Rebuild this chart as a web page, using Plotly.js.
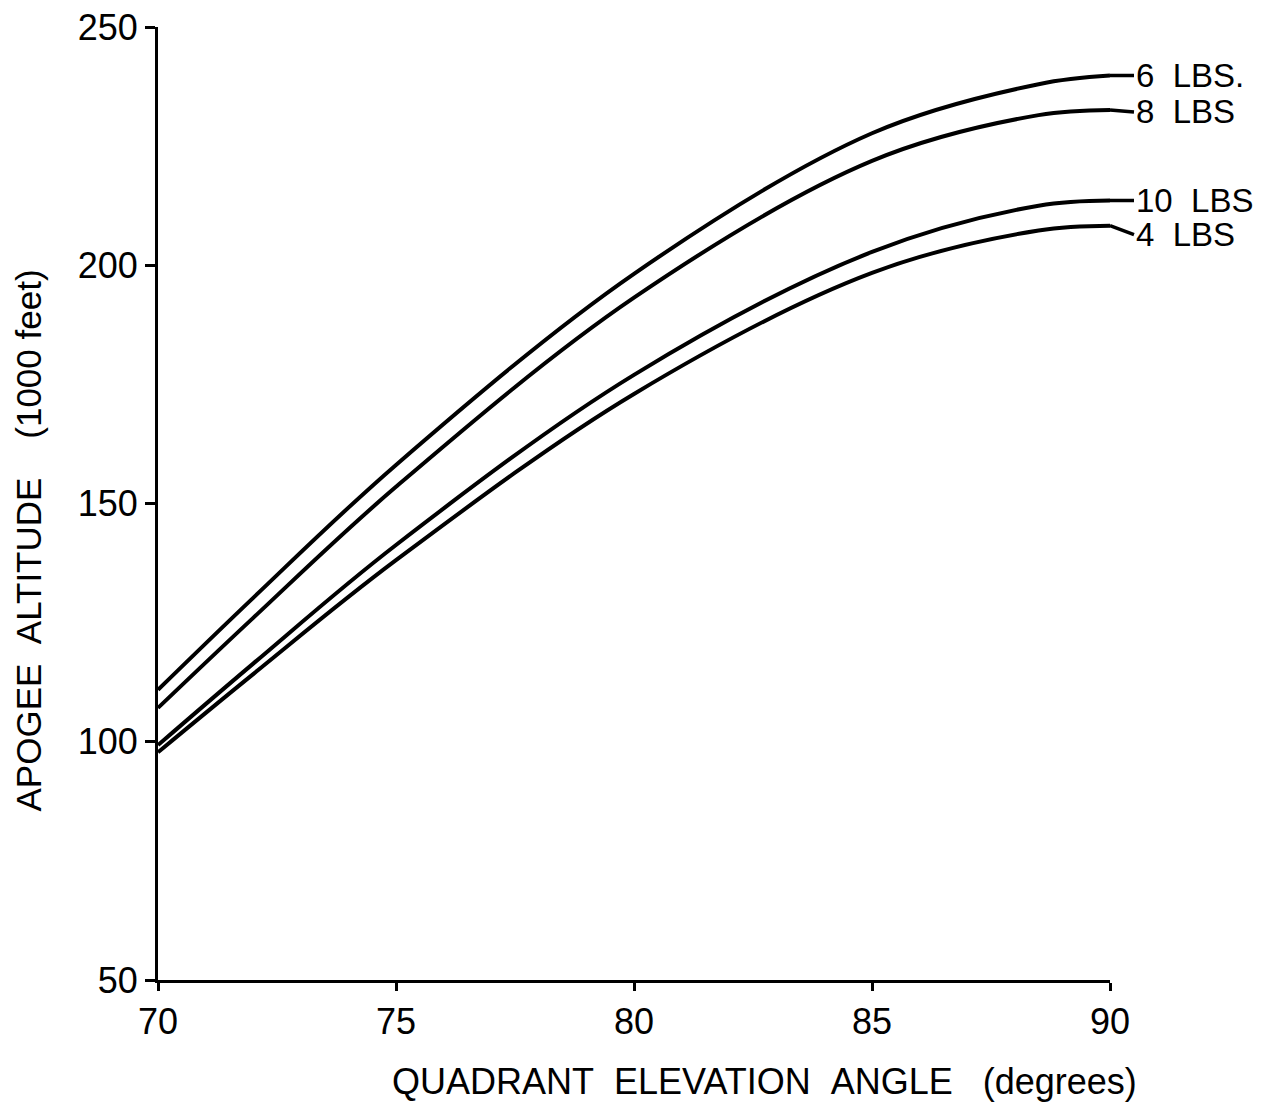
<!DOCTYPE html>
<html>
<head>
<meta charset="utf-8">
<script src="https://cdn.plot.ly/plotly-3.0.1.min.js"></script>
<style>html,body{margin:0;padding:0;background:#fff;}#chart{width:1271px;height:1108px;}</style>
</head>
<body>
<div id="chart"></div>
<script>
// Quadrant elevation angle (degrees)
const angles = [70, 72, 75, 80, 85, 88.5, 90];
// Apogee altitude (1000 feet) per payload weight
const lbs6  = [110.9, 130.2, 158.1, 198.2, 227.7, 238.0, 239.8];
const lbs8  = [107.1, 126.0, 153.5, 193.2, 221.9, 231.5, 232.6];
const lbs10 = [99.3, 116.4, 141.3, 177.0, 202.8, 212.5, 213.6];
const lbs4  = [97.8, 114.2, 138.1, 173.0, 198.4, 207.3, 208.3];
const seriesNames = ["6 LBS.", "8 LBS", "10 LBS", "4 LBS"];
const seriesData = [lbs6, lbs8, lbs10, lbs4];
const labelOffsets = [0, 2, 0, 9];
const xTicks = [70, 75, 80, 85, 90];
const yTicks = [50, 100, 150, 200, 250];

const FONT = 'Liberation Sans, Arial, sans-serif';

const traces = seriesData.map((ys, i) => ({
  x: angles, y: ys, type: 'scatter', mode: 'lines', name: seriesNames[i],
  line: {color: '#000', width: 4, shape: 'spline', smoothing: 1},
  cliponaxis: false, showlegend: false, hoverinfo: 'skip'
}));

const annotations = seriesData.map((ys, i) => ({
  x: angles[angles.length - 1], y: ys[ys.length - 1], xref: 'x', yref: 'y',
  text: seriesNames[i].replace(' ', '&nbsp;&nbsp;'), showarrow: true, ax: 24, ay: labelOffsets[i], xanchor: 'left',
  arrowhead: 0, arrowwidth: 3.5, arrowcolor: '#000', standoff: 0, startstandoff: 0,
  font: {family: FONT, size: 33, color: '#000'}
}));

annotations.push({
  xref: 'paper', yref: 'paper', x: 0.6376, y: -0.107, xanchor: 'center', yanchor: 'middle',
  showarrow: false, text: 'QUADRANT&nbsp;&nbsp;ELEVATION&nbsp;&nbsp;ANGLE&nbsp;&nbsp;&nbsp;(degrees)',
  font: {family: FONT, size: 36, color: '#000'}
});
annotations.push({
  xref: 'paper', yref: 'paper', x: -0.135, y: 0.4617, xanchor: 'center', yanchor: 'middle',
  showarrow: false, textangle: -90, text: 'APOGEE&nbsp;&nbsp;ALTITUDE&nbsp;&nbsp;&nbsp;&nbsp;(1000&nbsp;feet)',
  font: {family: FONT, size: 35, color: '#000'}
});

const layout = {
  width: 1271, height: 1108,
  margin: {l: 158, r: 161, t: 27, b: 128},
  paper_bgcolor: '#fff', plot_bgcolor: '#fff',
  font: {family: FONT, color: '#000'},
  xaxis: {
    range: [70, 90], tickvals: xTicks, ticktext: xTicks.map(String),
    showgrid: false, zeroline: false, showline: true, linecolor: '#000', linewidth: 3,
    ticks: 'outside', ticklen: 8, tickwidth: 3, tickcolor: '#000',
    tickfont: {size: 36, family: FONT}
  },
  yaxis: {
    range: [50, 250], tickvals: yTicks, ticktext: yTicks.map(String),
    showgrid: false, zeroline: false, showline: true, linecolor: '#000', linewidth: 3,
    ticks: 'outside', ticklen: 10, tickwidth: 3, tickcolor: '#000',
    tickfont: {size: 36, family: FONT}
  },
  annotations: annotations
};

Plotly.newPlot('chart', traces, layout, {staticPlot: true, displayModeBar: false});
</script>
</body>
</html>
